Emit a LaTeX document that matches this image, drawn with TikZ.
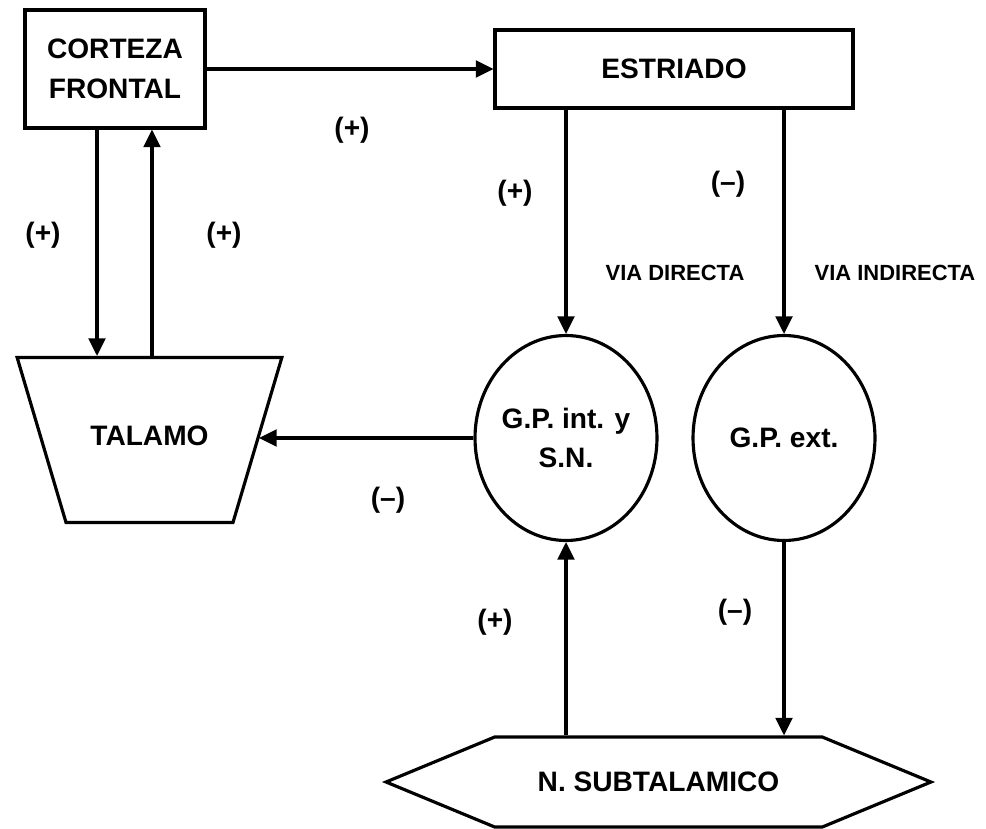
\documentclass[tikz,border=0pt]{standalone}
\usepackage{fontspec}
\setmainfont{Liberation Sans}
\usepackage{tikz}
\usetikzlibrary{shapes.geometric}
\usetikzlibrary{shapes.symbols}
\usetikzlibrary{arrows.meta}
\tikzset{
   box/.style={draw=black, line width=1.8pt, align=center, inner sep=0pt,
      font=\fontsize{16}{22.5}\selectfont\bfseries},
   nucleus/.style={box, ellipse, minimum width=3.64cm, minimum height=4.1cm},
   sign/.style={font=\fontsize{16}{20}\selectfont\bfseries},
   via/.style={font=\fontsize{12.5}{15}\selectfont\bfseries},
   conn/.style={draw=black, line width=1.8pt,
      -{Triangle[length=10pt,width=9.5pt]}},
    }

\begin{document}
\begin{tikzpicture}[x=0.02cm,y=-0.02cm]
       \useasboundingbox (0,0) rectangle (986,828);
       \node[box, minimum width=3.6cm, minimum height=2.36cm] (cortex) at (115,69) {CORTEZA\\FRONTAL};
       \node[box, minimum width=7.16cm, minimum height=1.56cm] (striatum) at (674,69) {ESTRIADO};
       \node[box, trapezium, shape border rotate=180, trapezium left angle=73.5,
          trapezium right angle=73.5, text width=3.34cm, text height=1.75cm,
          text depth=1.55cm] (thalamus) at (149.5,440) {TALAMO};
       \node[nucleus] (gpi) at (566,438) {G.P. int. y\\S.N.};
       \node[nucleus] (gpe) at (784,438) {G.P. ext.};
       \node[box, signal, signal to=west and east, signal pointer angle=45,
          minimum width=10.9cm, minimum height=1.8cm] (stn) at (658.5,782) {N. SUBTALAMICO};
       \coordinate (down) at ([xshift=-0.36cm]cortex.south);
       \coordinate (up) at ([xshift=0.74cm]cortex.south);
       \draw[conn](cortex.east)to(striatum.west);
       \draw[conn](down)to(down |- thalamus.north);
       \draw[conn](up |- thalamus.north)to(up);
       \draw[conn](striatum.south -| gpi.north)to(gpi.north);
       \draw[conn](striatum.south -| gpe.north)to(gpe.north);
       \draw[conn](gpi.west)to(gpi.west -| thalamus.east);
       \draw[conn](stn.north -| gpi.south)to(gpi.south);
       \draw[conn](gpe.south)to(gpe.south |- stn.north);
       \node[sign] (pcs) at (352,130) {(+)};
       \node[sign] (pct) at (43,235) {(+)};
       \node[sign] (ptc) at (224,235) {(+)};
       \node[sign] (psd) at (515,193) {(+)};
       \node[sign] (msi) at (728,184) {(--)};
       \node[via] (direct) at (675,273) {VIA DIRECTA};
       \node[via] (indirect) at (895,273) {VIA INDIRECTA};
       \node[sign] (mgt) at (388,500) {(--)};
       \node[sign] (pns) at (495,622) {(+)};
       \node[sign] (mgn) at (735,612) {(--)};
   \end{tikzpicture}
\end{document}
